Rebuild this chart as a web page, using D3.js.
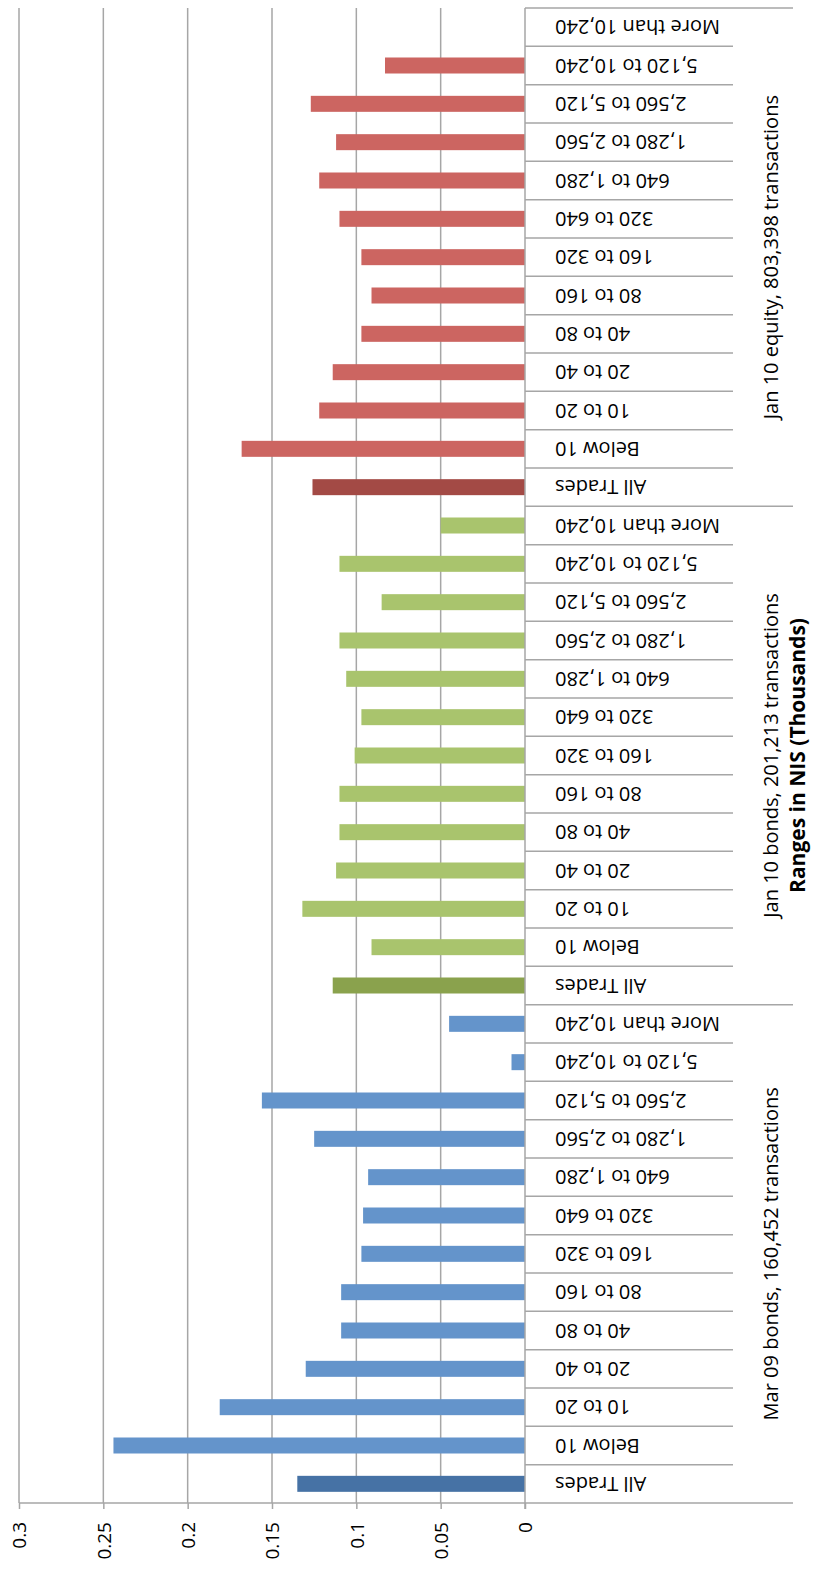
<!DOCTYPE html>
<html>
<head>
<meta charset="utf-8">
<script src="https://cdn.jsdelivr.net/npm/d3@7"></script>
<style>
  body { margin: 0; background: #fff; }
  text { font-family: 'Open Sans', sans-serif; fill: #000; }
</style>
</head>
<body>
<div id="chart"></div>
<script>
// category labels, bottom to top within each group
let categories = ['All Trades', 'Below 10', '10 to 20', '20 to 40', '40 to 80', '80 to 160',
    '160 to 320', '320 to 640', '640 to 1,280', '1,280 to 2,560', '2,560 to 5,120',
    '5,120 to 10,240', 'More than 10,240'];
let groups = ['Mar 09 bonds, 160,452 transactions', 'Jan 10 bonds, 201,213 transactions',
    'Jan 10 equity, 803,398 transactions'];
let mar09Bonds = [0.135, 0.244, 0.181, 0.130, 0.109, 0.109, 0.097, 0.096, 0.093, 0.125, 0.156, 0.008, 0.045];
let jan10Bonds = [0.114, 0.091, 0.132, 0.112, 0.110, 0.110, 0.101, 0.097, 0.106, 0.110, 0.085, 0.110, 0.050];
let jan10Equity = [0.126, 0.168, 0.122, 0.114, 0.097, 0.091, 0.097, 0.110, 0.122, 0.112, 0.127, 0.083, 0];
let valueTicks = [0, 0.05, 0.1, 0.15, 0.2, 0.25, 0.3];
let axisTitle = 'Ranges in NIS (Thousands)';

let seriesValues = [mar09Bonds, jan10Bonds, jan10Equity];
let groupColors = [['#4672a5', '#6494cb'], ['#8aa24d', '#a9c46d'], ['#a34a45', '#cc6561']];

let width = 820;
let height = 1573;
let svg = d3.select('#chart')
    .append('svg')
    .attr('width', width)
    .attr('height', height);

let plotTop = 8;
let plotBottom = 1503;
let zeroX = 525;
let gridColor = '#a6a6a6';

let rows = [];
groups.forEach((g, gi) => {
    categories.forEach((c, ci) => {
        rows.push({ group: gi, cat: c, idx: ci, key: gi + '|' + ci, value: seriesValues[gi][ci] });
    });
});

let xScale = d3.scaleLinear()
    .domain([0, 0.3])
    .range([zeroX, 19]);
let yScale = d3.scaleBand()
    .domain(rows.map(d => d.key))
    .range([plotBottom, plotTop]);

// gridlines
svg.append('g')
    .selectAll('line')
    .data(valueTicks.filter(v => v > 0))
    .enter()
    .append('line')
    .attr('x1', d => xScale(d))
    .attr('x2', d => xScale(d))
    .attr('y1', plotTop)
    .attr('y2', plotBottom)
    .attr('stroke', gridColor)
    .attr('stroke-width', 1.5);

// bars
let barH = 16;
svg.append('g')
    .selectAll('rect')
    .data(rows.filter(d => d.value > 0))
    .enter()
    .append('rect')
    .attr('x', d => xScale(d.value))
    .attr('width', d => xScale(0) - xScale(d.value))
    .attr('y', d => yScale(d.key) + yScale.bandwidth() / 2 - barH / 2)
    .attr('height', barH)
    .attr('fill', d => d.idx === 0 ? groupColors[d.group][0] : groupColors[d.group][1]);

// value axis (bottom)
let xAxis = d3.axisBottom(xScale)
    .tickValues(valueTicks)
    .tickFormat(d3.format('~g'))
    .tickSize(6);
let xAxisGroup = svg.append('g')
    .attr('transform', `translate(0,${plotBottom})`)
    .call(xAxis);
xAxisGroup.select('.domain').remove();
xAxisGroup.selectAll('line').attr('stroke', gridColor).attr('stroke-width', 1.5);
xAxisGroup.selectAll('text')
    .attr('transform', 'rotate(-90)')
    .attr('x', -19)
    .attr('y', 0)
    .attr('dy', '0.36em')
    .attr('text-anchor', 'end')
    .attr('font-size', 19)
    .attr('font-family', "'Open Sans', sans-serif")
    .attr('fill', '#000');

svg.append('line')
    .attr('x1', xScale(0.3)).attr('x2', 793)
    .attr('y1', plotBottom).attr('y2', plotBottom)
    .attr('stroke', gridColor).attr('stroke-width', 1.5);

// category axis
svg.append('line')
    .attr('x1', zeroX).attr('x2', zeroX)
    .attr('y1', plotTop).attr('y2', plotBottom + 6)
    .attr('stroke', gridColor).attr('stroke-width', 1.5);

svg.append('g')
    .selectAll('line')
    .data(rows)
    .enter()
    .append('line')
    .attr('x1', zeroX)
    .attr('x2', d => d.idx === categories.length - 1 ? 793 : 733)
    .attr('y1', d => yScale(d.key))
    .attr('y2', d => yScale(d.key))
    .attr('stroke', gridColor)
    .attr('stroke-width', 1.5);

svg.append('g')
    .selectAll('text')
    .data(rows)
    .enter()
    .append('text')
    .attr('transform', d => `translate(555,${yScale(d.key) + yScale.bandwidth() / 2 - 7}) rotate(180)`)
    .attr('text-anchor', 'end')
    .attr('font-size', 20)
    .text(d => d.cat);

// group labels
svg.append('g')
    .selectAll('text')
    .data(groups)
    .enter()
    .append('text')
    .attr('transform', (g, gi) => {
        let first = yScale(gi + '|0') + yScale.bandwidth();
        let last = yScale(gi + '|' + (categories.length - 1));
        return `translate(778,${(first + last) / 2}) rotate(-90)`;
    })
    .attr('text-anchor', 'middle')
    .attr('font-size', 20)
    .text(g => g);

svg.append('text')
    .attr('transform', `translate(805,${(plotTop + plotBottom) / 2}) rotate(-90)`)
    .attr('text-anchor', 'middle')
    .attr('font-size', 21)
    .attr('font-weight', 'bold')
    .text(axisTitle);
</script>
</body>
</html>
